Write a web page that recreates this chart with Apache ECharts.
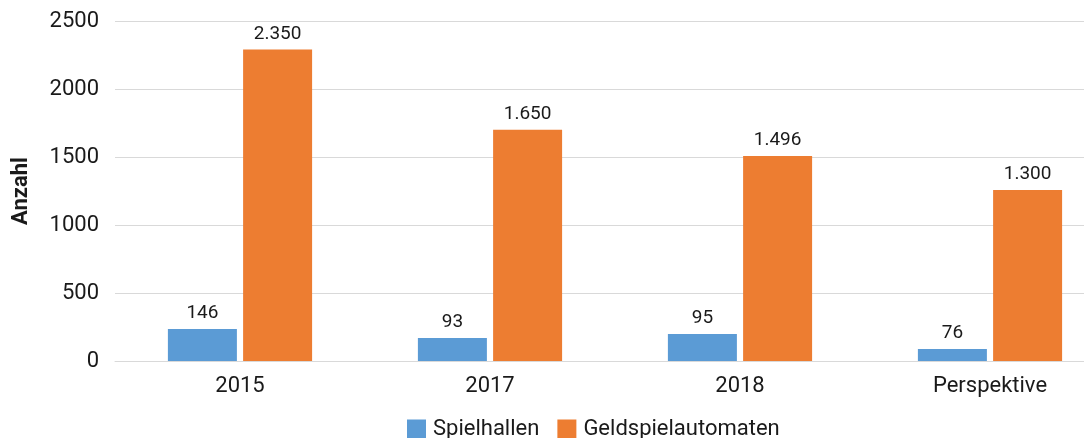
<!DOCTYPE html>
<html>
<head>
<meta charset="utf-8">
<script src="https://cdn.jsdelivr.net/npm/echarts@6/dist/echarts.min.js"></script>
<style>
  html, body { margin: 0; padding: 0; background: #fff; overflow: hidden; }
  /* plot runs past the right edge in the original, so the canvas is wider than the window */
  #chart { width: 1115px; height: 438px; }
</style>
</head>
<body>
<div id="chart"></div>
<script>
const categories = ['2015', '2017', '2018', 'Perspektive']
const seriesNames = ['Spielhallen', 'Geldspielautomaten']
// bar heights as drawn in the picture
const spielhallen = [235, 170, 199, 88]
const geldspielautomaten = [2290, 1700, 1508, 1258]
// printed value labels
const spielhallenLabels = ['146', '93', '95', '76']
const geldLabels = ['2.350', '1.650', '1.496', '1.300']

const font = 'Roboto'
const textColor = '#1a1a1a'

const chart = echarts.init(document.getElementById('chart'))

const labelStyle = (texts) => ({
  show: true,
  position: 'top',
  distance: 6,
  color: textColor,
  fontFamily: font,
  fontSize: 19,
  formatter: (p) => texts[p.dataIndex]
})

chart.setOption({
  animation: false,
  grid: { left: 115, top: 21, bottom: 77, right: 0 },
  legend: {
    data: seriesNames,
    left: 402,
    top: 413,
    itemWidth: 19,
    itemHeight: 19,
    itemGap: 18,
    icon: 'rect',
    textStyle: { color: textColor, fontFamily: font, fontSize: 22, padding: [0, 0, 0, 2] }
  },
  xAxis: {
    type: 'category',
    data: categories,
    axisLine: { lineStyle: { color: '#d9d9d9', width: 1 } },
    axisTick: { show: false },
    axisLabel: { color: textColor, fontFamily: font, fontSize: 22, margin: 14 }
  },
  yAxis: {
    type: 'value',
    min: 0,
    max: 2500,
    interval: 500,
    name: 'Anzahl',
    nameLocation: 'middle',
    nameGap: 83,
    nameTextStyle: { color: textColor, fontFamily: font, fontSize: 22, fontWeight: 'bold' },
    axisLine: { show: false },
    axisTick: { show: false },
    splitLine: { lineStyle: { color: '#d9d9d9', width: 1 } },
    axisLabel: {
      color: textColor, fontFamily: font, fontSize: 22, margin: 16,
      formatter: (v) => String(v)
    }
  },
  series: [
    {
      name: seriesNames[0],
      type: 'bar',
      data: spielhallen,
      barWidth: 69,
      barGap: '9%',
      itemStyle: { color: '#5B9BD5' },
      label: labelStyle(spielhallenLabels)
    },
    {
      name: seriesNames[1],
      type: 'bar',
      data: geldspielautomaten,
      barWidth: 69,
      barGap: '9%',
      itemStyle: { color: '#ED7D31' },
      label: labelStyle(geldLabels)
    }
  ]
})
</script>
</body>
</html>
